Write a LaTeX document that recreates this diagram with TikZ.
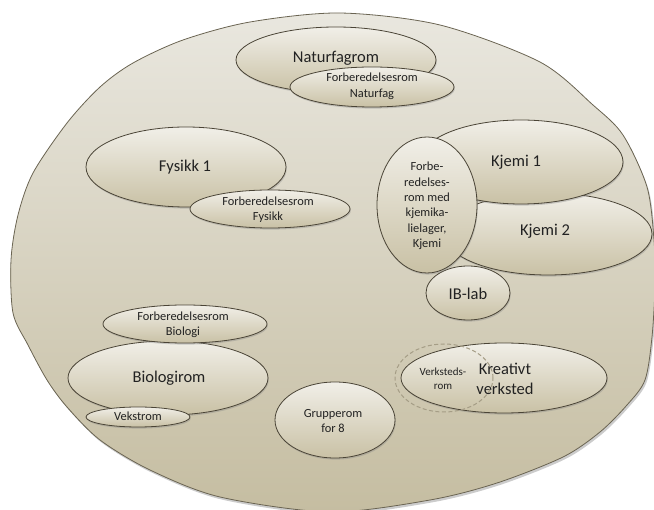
\documentclass[tikz,border=0pt]{standalone}
\usepackage{fontspec}
\setmainfont{Carlito}
\usetikzlibrary{shapes.geometric,shadows}

\definecolor{floortop}{HTML}{E9E7DF}
\definecolor{floormid}{HTML}{D8D3C1}
\definecolor{floorbot}{HTML}{C5BDA1}
\definecolor{floorline}{HTML}{6A6452}
\definecolor{roomtop}{HTML}{F1EFE8}
\definecolor{roommid}{HTML}{E1DDCF}
\definecolor{roombot}{HTML}{C9C1A5}
\definecolor{roomline}{HTML}{4A4436}
\definecolor{dashline}{HTML}{A59D86}
\definecolor{labeltext}{HTML}{222222}

\begin{document}
\begin{tikzpicture}[x=1pt,y=-1pt,
  room/.style={ellipse, draw=roomline, line width=0.8pt,
    top color=roomtop, middle color=roommid, bottom color=roombot,
    inner sep=0pt, outer sep=0pt,
    drop shadow={opacity=0.35, shadow xshift=0.8pt, shadow yshift=-1.6pt}},
  bigtext/.style={font=\fontsize{16.5}{20}\selectfont, text=labeltext,
    align=center, inner sep=0pt},
  smalltext/.style={font=\fontsize{12.4}{15.6}\selectfont, text=labeltext,
    align=center, inner sep=0pt},
  tinytext/.style={font=\fontsize{11}{14}\selectfont, text=labeltext,
    align=center, inner sep=0pt}
]
\useasboundingbox (0,0) rectangle (654,510);

% the whole floor
\path[draw=floorline, line width=0.8pt,
  top color=floortop, middle color=floormid, bottom color=floorbot,
  drop shadow={opacity=0.4, shadow xshift=1.5pt, shadow yshift=-2.5pt}]
  plot[smooth cycle] coordinates {
    (340,13) (440,25) (540,62) (593,105) (623,135) (647,187) (654,240)
    (655,285) (652,337) (645,380) (627,405) (600,432) (563,457) (497,483)
    (430,500) (330,512) (220,497) (150,470) (100,440) (67,407) (47,380)
    (28,345) (13,313) (11,260) (18,215) (33,173) (67,123) (100,87)
    (133,63) (183,40) (250,22)};

% science room
\node[room, minimum width=200pt, minimum height=66pt] (natur) at (336,60) {};
\node[bigtext] (naturT) at (336,58) {Naturfagrom};
\node[room, minimum width=164pt, minimum height=40pt] (fnatur) at (372,87) {};
\node[smalltext] (fnaturT) at (372,86.5) {Forberedelsesrom\\Naturfag};

% physics
\node[room, minimum width=200pt, minimum height=80pt] (fys) at (186,167) {};
\node[bigtext] (fysT) at (185,167) {Fysikk 1};
\node[room, minimum width=160pt, minimum height=38pt] (ffys) at (270,209) {};
\node[smalltext] (ffysT) at (268,209.5) {Forberedelsesrom\\Fysikk};

% chemistry
\node[room, minimum width=208pt, minimum height=82pt] (kj2) at (548,234) {};
\node[bigtext] (kj2T) at (545,231) {Kjemi 2};
\node[room, minimum width=204pt, minimum height=84pt] (kj1) at (521,162) {};
\node[bigtext] (kj1T) at (516,162) {Kjemi 1};
\node[room, minimum width=84pt, minimum height=54pt] (ib) at (468,293) {};
\node[bigtext] (ibT) at (468,294) {IB-lab};
\node[room, minimum width=100pt, minimum height=136pt] (fkj) at (427,205) {};
\node[smalltext, font=\fontsize{12.4}{15.4}\selectfont] (fkjT) at (427,206)
  {Forbe-\\redelses-\\rom med\\kjemika-\\lielager,\\Kjemi};

% biology
\node[room, minimum width=200pt, minimum height=74pt] (bio) at (168,378) {};
\node[bigtext] (bioT) at (169,378) {Biologirom};
\node[room, minimum width=164pt, minimum height=38pt] (fbio) at (185,324) {};
\node[smalltext, font=\fontsize{12.4}{15}\selectfont] (fbioT) at (183,324.5) {Forberedelsesrom\\Biologi};
\node[room, minimum width=104pt, minimum height=20pt] (vekst) at (138,417) {};
\node[smalltext] (vekstT) at (138,416.5) {Vekstrom};

% group room
\node[room, minimum width=120pt, minimum height=76pt] (grp) at (335,420) {};
\node[smalltext] (grpT) at (333,421) {Grupperom\\for 8};

% creative workshop
\node[room, minimum width=206pt, minimum height=70pt] (krea) at (504,378) {};
\node[bigtext] (kreaT) at (505,379) {Kreativt\\verksted};
\node[ellipse, draw=dashline, line width=1pt, dash pattern=on 4pt off 2.5pt,
  minimum width=98pt, minimum height=68pt, inner sep=0pt] (verk) at (444,378) {};
\node[tinytext] (verkT) at (443,379) {Verksteds-\\rom};
\end{tikzpicture}
\end{document}
